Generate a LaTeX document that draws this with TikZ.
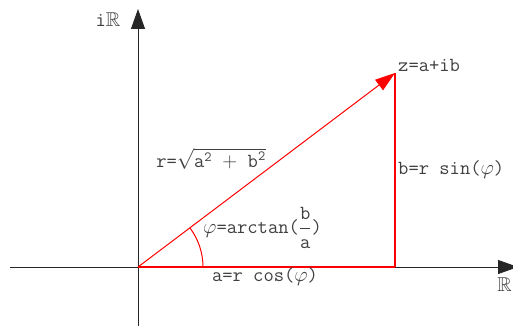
\documentclass[tikz,border=0pt]{standalone}
\usepackage{amssymb}
\usepackage{fontspec}
\usetikzlibrary{arrows.meta,positioning,calc}
\tikzset{
  axis/.style={draw=black!85,line width=0.9pt,-{Triangle[length=20pt,width=14pt]}},
  leg/.style={red,line width=1.2pt},
  vec/.style={red,line width=1pt,-{Triangle[length=20pt,width=13pt]}},
  lbl/.style={inner sep=1pt,text=black!75,font=\ttfamily\fontsize{20}{22}\selectfont},
}
\begin{document}
\begin{tikzpicture}[x=1pt,y=-1pt]
  \useasboundingbox (0,0) rectangle (513,326);
  % points
  \coordinate (o) at (138,267);
  \coordinate (z) at (395,73);
  \coordinate (foot) at (395,267);
  \coordinate (xs) at (10,267);
  \coordinate (xe) at (518,267);
  \coordinate (ys) at (138,326);
  \coordinate (ye) at (138,9);
  % axes
  \draw[axis] (xs) -- (xe);
  \draw[axis] (ys) -- (ye);
  \node[lbl] (im) at (108,20) {i$\mathbb{R}$};
  \node[lbl,anchor=east] (re) at (513,285) {$\mathbb{R}$};
  % triangle
  \draw[leg] (o) -- (foot);
  \draw[leg] (foot) -- (z);
  \draw[vec] (o) -- (z);
  \draw[leg,line width=1pt] ($(o)+(65,0)$) arc[start angle=0,end angle=37,x radius=65,y radius=-65];
  % labels
  \node[lbl,anchor=west] (zl) at (397,65) {z=a+ib};
  \node[lbl,anchor=west] (bl) at (397,170) {b=r sin($\varphi$)};
  \node[lbl] (rl) at (211,159) {r=$\sqrt{\mathtt{a}^{\mathtt{2}}\ \mathtt{+\ b}^{\mathtt{2}}}$};
  \node[lbl,anchor=west] (pl) at (202,228) {$\varphi$=arctan($\displaystyle\frac{\mathtt{b}}{\mathtt{a}}$)};
  \node[lbl] (al) at (265,277) {a=r cos($\varphi$)};
\end{tikzpicture}
\end{document}
